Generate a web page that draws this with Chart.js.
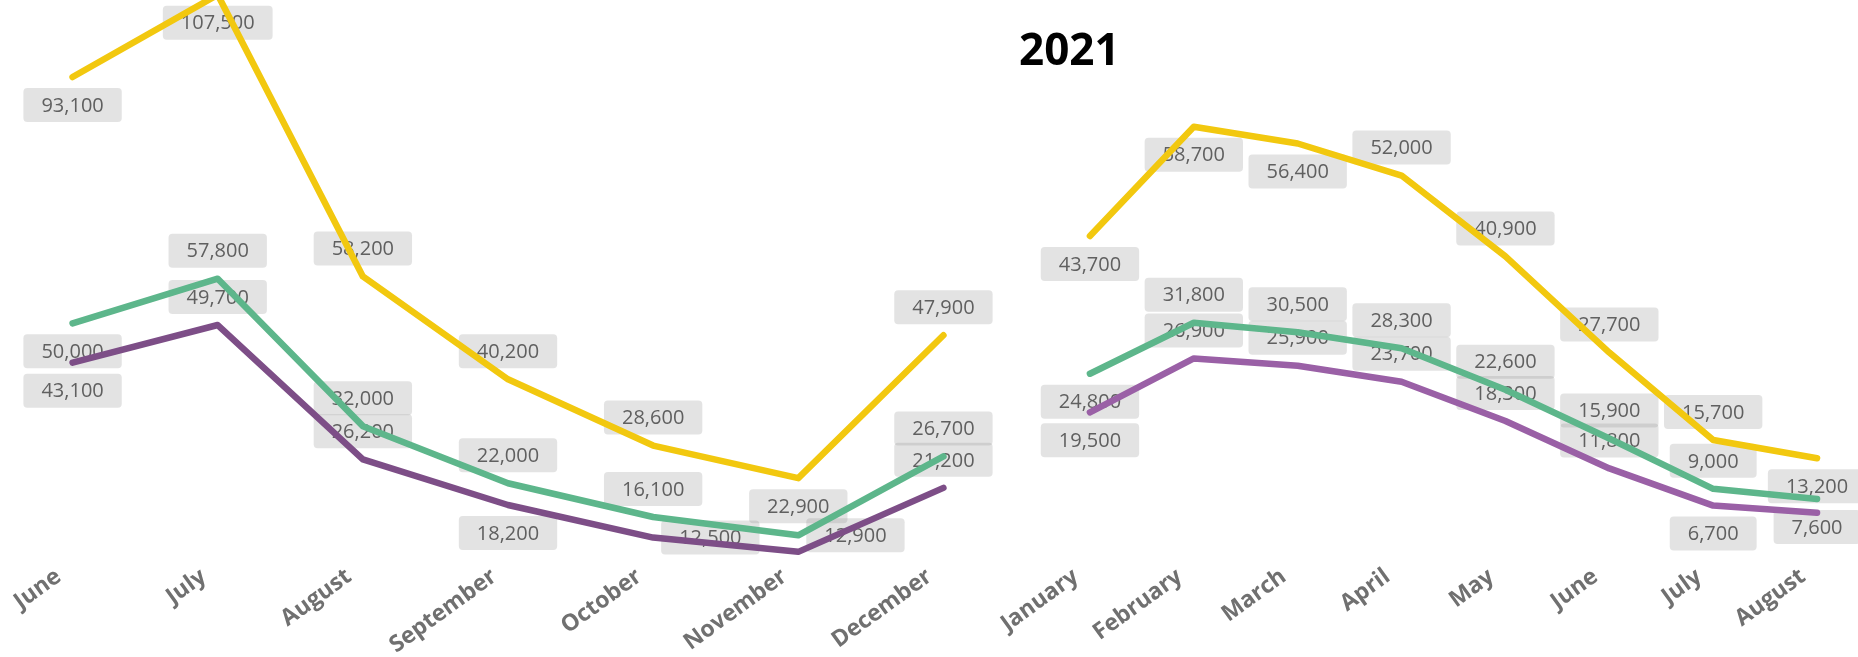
<!DOCTYPE html>
<html>
<head>
<meta charset="utf-8">
<title>Monthly totals 2020-2021</title>
<script src="https://cdn.jsdelivr.net/npm/chart.js@4.4.0/dist/chart.umd.min.js"></script>
<style>
  html, body { margin: 0; width: 1858px; height: 657px; overflow: hidden; background: #fff; }
  .panel { position: absolute; top: 0; height: 657px; }
</style>
</head>
<body>
<div class="panel" style="left:0;width:1016px"><canvas id="chart-2020"></canvas></div>
<div class="panel" style="left:985px;width:884px"><canvas id="chart-2021"></canvas></div>
<script>
// 2020 (June - December)
const months2020 = ['June', 'July', 'August', 'September', 'October', 'November', 'December'];
const gold2020 = [93100, 107500, 58200, 40200, 28600, 22900, 47900];
const green2020 = [50000, 57800, 32000, 22000, 16100, 12900, 26700];
const purple2020 = [43100, 49700, 26200, 18200, 12500, 10000, 21200];

// 2021 (January - August)
const months2021 = ['January', 'February', 'March', 'April', 'May', 'June', 'July', 'August'];
const gold2021 = [43700, 58700, 56400, 52000, 40900, 27700, 15700, 13200];
const green2021 = [24800, 31800, 30500, 28300, 22600, 15900, 9000, 7600];
const purple2021 = [19500, 26900, 25900, 23700, 18300, 11800, 6700, 5700];

const FONT = '"Segoe UI", "Open Sans", sans-serif';

// where each value box sits next to its point (null = no box)
const spots2020 = [
  ['below', 'below', 'above', 'above', 'above', 'below', 'above'],
  ['below', 'above', 'above', 'above', 'above', 'right', 'above'],
  ['below', 'above', 'above', 'below', 'right', null, 'above']
];
const spots2021 = [
  ['below', 'below', 'below', 'above', 'above', 'above', 'above', 'below'],
  ['below', 'above', 'above', 'above', 'above', 'above', 'above', 'below'],
  ['below', 'above', 'above', 'above', 'above', 'above', 'below', null]
];

// grey rounded value boxes, drawn under the lines
const valueBoxes = {
  id: 'valueBoxes',
  beforeDatasetsDraw(chart, args, opts) {
    const ctx = chart.ctx;
    ctx.save();
    ctx.font = '20px ' + FONT;
    ctx.textAlign = 'center';
    ctx.textBaseline = 'middle';
    chart.data.datasets.forEach((ds, i) => {
      chart.getDatasetMeta(i).data.forEach((pt, j) => {
        const spot = opts.spots[i][j];
        if (!spot) return;
        const text = ds.data[j].toLocaleString('en-US');
        const w = ctx.measureText(text).width + 36;
        const h = 34;
        let cx = pt.x, cy = pt.y;
        if (spot === 'above') cy -= 28;
        if (spot === 'below') cy += 28;
        if (spot === 'right') cx += 8 + w / 2;
        ctx.fillStyle = 'rgba(140,140,140,0.24)';
        ctx.beginPath();
        ctx.roundRect(cx - w / 2, cy - h / 2, w, h, 4);
        ctx.fill();
        ctx.fillStyle = '#606060';
        ctx.fillText(text, cx, cy + 1);
      });
    });
    ctx.restore();
  }
};

function line(data, color) {
  return {
    data: data,
    borderColor: color,
    borderWidth: 6.5,
    borderJoinStyle: 'round',
    borderCapStyle: 'round',
    pointRadius: 0,
    tension: 0,
    fill: false
  };
}

function xAxis() {
  return {
    offset: true,
    grid: { display: false, drawTicks: false },
    border: { display: false },
    afterFit(scale) { scale.height = 97; },
    ticks: {
      autoSkip: false,
      minRotation: 36,
      maxRotation: 36,
      padding: 3,
      labelOffset: -14,
      color: '#707070',
      font: { family: FONT, size: 23, weight: 'bold' }
    }
  };
}

new Chart(document.getElementById('chart-2020'), {
  type: 'line',
  data: {
    labels: months2020,
    datasets: [
      line(gold2020, '#F2C80F'),
      line(green2020, '#5DB68B'),
      line(purple2020, '#7D4E87')
    ]
  },
  options: {
    responsive: true,
    maintainAspectRatio: false,
    animation: false,
    layout: { padding: 0 },
    plugins: {
      legend: { display: false },
      tooltip: { enabled: false },
      valueBoxes: { spots: spots2020 }
    },
    scales: {
      x: xAxis(),
      y: { display: false, min: 8575, max: 106580 }
    }
  },
  plugins: [valueBoxes]
});

new Chart(document.getElementById('chart-2021'), {
  type: 'line',
  data: {
    labels: months2021,
    datasets: [
      line(gold2021, '#F2C80F'),
      line(green2021, '#5DB68B'),
      line(purple2021, '#9A60A6')
    ]
  },
  options: {
    responsive: true,
    maintainAspectRatio: false,
    animation: false,
    layout: { padding: { left: 34 } },
    plugins: {
      legend: { display: false },
      tooltip: { enabled: false },
      title: {
        display: true,
        text: '2021',
        align: 'start',
        color: '#000000',
        font: { family: FONT, size: 44, weight: 'bold', lineHeight: 1.2 },
        padding: { top: 26, bottom: 0 }
      },
      valueBoxes: { spots: spots2021 }
    },
    scales: {
      x: xAxis(),
      y: {
        display: true,
        min: -770,
        max: 65280,
        grid: { display: false, drawTicks: false },
        border: { display: false },
        ticks: { display: false },
        afterFit(scale) { scale.width = 19; }
      }
    }
  },
  plugins: [valueBoxes]
});
</script>
</body>
</html>
